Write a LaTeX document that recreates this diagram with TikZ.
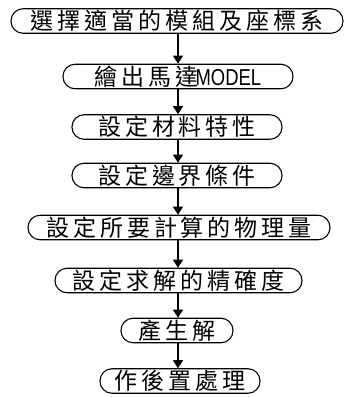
\documentclass[tikz,border=0pt]{standalone}
\usepackage{fontspec}
\setmainfont{Noto Sans CJK TC}
\newfontfamily\cjkfont[LetterSpace=17]{Noto Sans CJK TC}
\newfontfamily\latinfont{Liberation Sans}
\usetikzlibrary{arrows.meta}
\begin{document}
\begin{tikzpicture}[x=1pt,y=1pt,
  stepbox/.style={draw=black, line width=1.1pt, rounded corners=12pt,
    minimum height=24.5pt, inner sep=0pt, align=center,
    font=\fontsize{23}{23}\cjkfont},
  flow/.style={draw=black, line width=1.1pt, -{Triangle[width=10pt,length=8pt]}}]
\useasboundingbox (0,0) rectangle (344,-397);
\node[stepbox, minimum width=332pt] (n1) at (177,-21) {選擇適當的模組及座標系};
\node[stepbox, minimum width=230pt] (n2) at (178,-76.5) {繪出馬達\hspace{-3pt}{\latinfont\scalebox{0.8}[1]{MODEL}}};
\node[stepbox, minimum width=210pt] (n3) at (177,-127) {設定材料特性};
\node[stepbox, minimum width=210pt] (n4) at (177,-175.5) {設定邊界條件};
\node[stepbox, minimum width=302pt] (n5) at (179,-227.5) {設定所要計算的物理量};
\node[stepbox, minimum width=247pt] (n6) at (178.5,-280.5) {設定求解的精確度};
\node[stepbox, minimum width=112pt] (n7) at (177,-330.5) {產生解};
\node[stepbox, minimum width=160pt] (n8) at (180,-381) {作後置處理};
\draw[flow] (n1.south -| 178,0) -- (n2.north -| 178,0);
\draw[flow] (n2.south -| 178,0) -- (n3.north -| 178,0);
\draw[flow] (n3.south -| 178,0) -- (n4.north -| 178,0);
\draw[flow] (n4.south -| 178,0) -- (n5.north -| 178,0);
\draw[flow] (n5.south -| 178,0) -- (n6.north -| 178,0);
\draw[flow] (n6.south -| 178,0) -- (n7.north -| 178,0);
\draw[flow] (n7.south -| 178,0) -- (n8.north -| 178,0);
\end{tikzpicture}
\end{document}
